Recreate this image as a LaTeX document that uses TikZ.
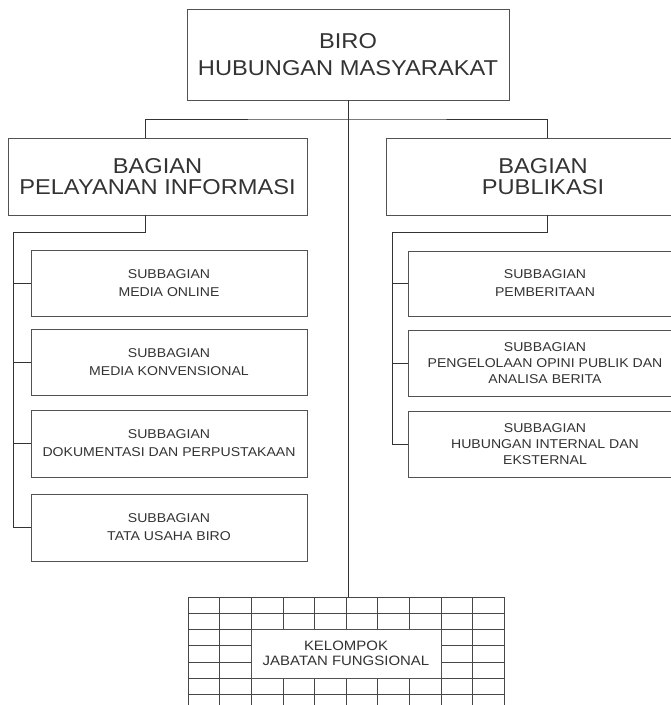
\documentclass[tikz,border=0pt]{standalone}
\usepackage{fontspec}
\setmainfont{Liberation Sans}[FakeStretch=1.1]
\usetikzlibrary{positioning,calc}
\definecolor{ink}{HTML}{333333}

\begin{document}
\begin{tikzpicture}[x=1pt,y=-1pt,
  every node/.style={text=ink},
  box/.style={draw=ink!85,line width=0.5pt,align=center,inner sep=0pt},
  big/.style={font=\fontsize{21.5}{21}\selectfont},
  small/.style={font=\fontsize{12.8}{18}\selectfont},
  link/.style={draw=ink,line width=0.9pt},
  gridline/.style={draw=ink!90,line width=0.5pt}]
  \useasboundingbox (0,0) rectangle (671,705);
  \clip (0,0) rectangle (671,705);
  % kepala biro
  \node[box,minimum width=322,minimum height=91,font=\fontsize{21.5}{27}\selectfont] (biro) at (348,54.5) {BIRO\\HUBUNGAN MASYARAKAT};
  % bagian
  \node[box,big,minimum width=299,minimum height=77] (bagpel) at (157.5,176.5) {BAGIAN\\PELAYANAN INFORMASI};
  \node[box,big,minimum width=314,minimum height=77] (bagpub) at (543,176.5) {BAGIAN\\PUBLIKASI};
  % subbagian kiri
  \node[box,small,minimum width=276,minimum height=66] (subonline) at (169,283) {SUBBAGIAN\\MEDIA ONLINE};
  \node[box,small,minimum width=276,minimum height=66] (subkonv) at (169,362) {SUBBAGIAN\\MEDIA KONVENSIONAL};
  \node[box,small,minimum width=276,minimum height=67] (subdok) at (169,443.5) {SUBBAGIAN\\DOKUMENTASI DAN PERPUSTAKAAN};
  \node[box,small,minimum width=276,minimum height=67] (subtu) at (169,527.5) {SUBBAGIAN\\TATA USAHA BIRO};
  % subbagian kanan
  \node[box,small,minimum width=274,minimum height=65] (subberita) at (545,283.5) {SUBBAGIAN\\PEMBERITAAN};
  \node[box,font=\fontsize{12.8}{16}\selectfont,minimum width=274,minimum height=66] (subopini) at (545,363) {SUBBAGIAN\\PENGELOLAAN OPINI PUBLIK DAN\\ANALISA BERITA};
  \node[box,font=\fontsize{12.8}{16}\selectfont,minimum width=274,minimum height=66] (subhub) at (545,444) {SUBBAGIAN\\HUBUNGAN INTERNAL DAN\\EKSTERNAL};
  % kelompok jabatan fungsional
  \foreach \i in {0,...,10}
    \draw[gridline] ({188+31.6*\i},597) -- ({188+31.6*\i},706);
  \foreach \j in {0,...,7}
    \draw[gridline] (188,{597+16.2*\j}) -- (504,{597+16.2*\j});
  \node[box,fill=white,font=\fontsize{13.6}{15}\selectfont,minimum width=189.6,minimum height=48.6] (kjf) at (346,653.7) {KELOMPOK\\JABATAN FUNGSIONAL};
  % garis
  \coordinate (gtop) at (348,597);
  \coordinate (bar) at (348,119);
  \coordinate (lspine) at (13,232);
  \coordinate (rspine) at (392,232);
  \draw[link,line width=0.7pt] (biro.south) -- (gtop);
  \draw[link,line width=0.7pt] ([xshift=-12]bagpel.north) |- (bar) -| ([xshift=4]bagpub.north);
  \draw[link] ([xshift=-12]bagpel.south) |- (lspine) |- (subtu.west);
  \foreach \s in {subonline,subkonv,subdok}
    \draw[link] (\s.west) -- (\s.west -| lspine);
  \draw[link] ([xshift=4]bagpub.south) |- (rspine) |- (subhub.west);
  \foreach \s in {subberita,subopini}
    \draw[link] (\s.west) -- (\s.west -| rspine);
\end{tikzpicture}
\end{document}
